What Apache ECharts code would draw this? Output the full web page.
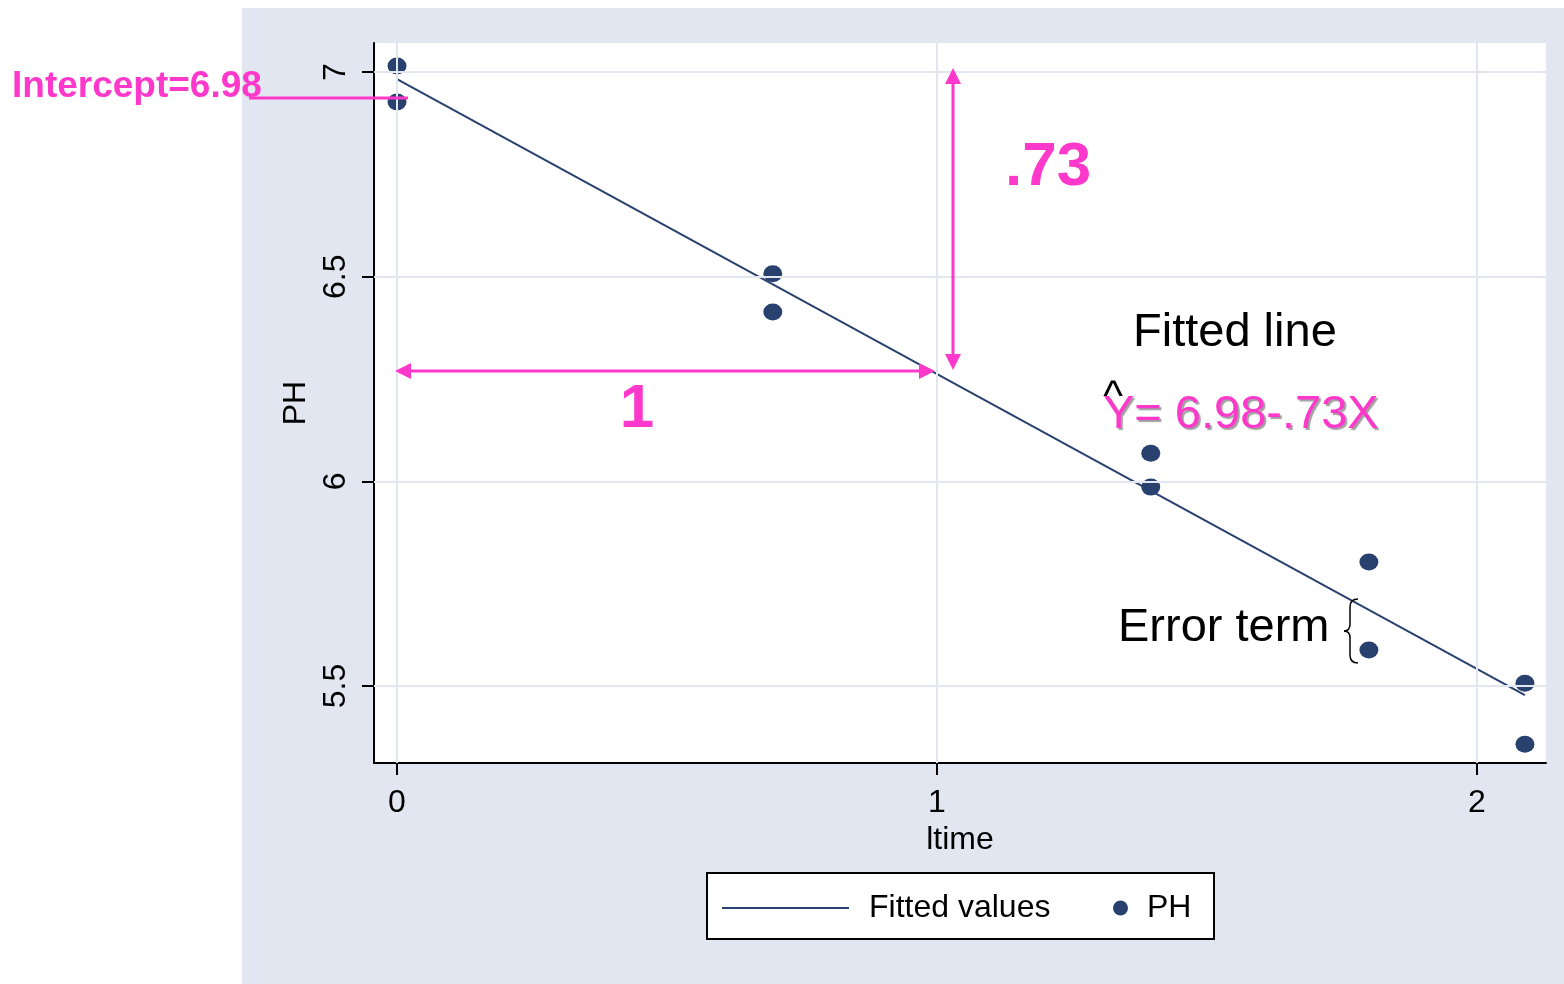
<!DOCTYPE html>
<html>
<head>
<meta charset="utf-8">
<script src="https://cdn.jsdelivr.net/npm/echarts@6/dist/echarts.min.js"></script>
<style>
  html, body { margin: 0; padding: 0; background: #fff; }
  #chart {
    width: 1564px; height: 984px;
    background: linear-gradient(#e1e6f0, #e1e6f0) 242px 8px / 1322px 976px no-repeat, #ffffff;
  }
</style>
</head>
<body>
<div id="chart"></div>
<script>
// ---- data ----
var ltime = [0, 0, 0.696, 0.696, 1.396, 1.396, 1.800, 1.800, 2.089, 2.089];
var ph    = [7.015, 6.927, 6.507, 6.414, 6.069, 5.986, 5.803, 5.588, 5.507, 5.358];
var fitX  = [0, 2.089];
var fitY  = [6.983, 5.478];
var xTicks = [0, 1, 2];
var yTicks = [5.5, 6, 6.5, 7];
var xRange = [-0.0426, 2.128];
var yRange = [5.312, 7.071];

var FONT = "'Liberation Sans', Arial, sans-serif";
var PINK = '#ff38cc';
var NAVY = '#29416f';
var GRIDC = '#e1e6f0';

var scatterData = ltime.map(function (x, i) { return [x, ph[i]]; });
var fitData = fitX.map(function (x, i) { return [x, fitY[i]]; });
var gridLines = xTicks.map(function (v) { return { xAxis: v }; })
  .concat(yTicks.map(function (v) { return { yAxis: v }; }));

var chart = echarts.init(document.getElementById('chart'), null, { renderer: 'canvas' });

function arrowHead(tip, dir) {
  var x = tip[0], y = tip[1], L = 16, W = 8;
  var pts;
  if (dir === 'up') pts = [[x, y], [x - W, y + L], [x + W, y + L]];
  if (dir === 'down') pts = [[x, y], [x - W, y - L], [x + W, y - L]];
  if (dir === 'left') pts = [[x, y], [x + L, y - W], [x + L, y + W]];
  if (dir === 'right') pts = [[x, y], [x - L, y - W], [x - L, y + W]];
  return { type: 'polygon', shape: { points: pts }, style: { fill: PINK }, z: 50 };
}
function seg(x1, y1, x2, y2, color, w) {
  return { type: 'line', shape: { x1: x1, y1: y1, x2: x2, y2: y2 }, style: { stroke: color, lineWidth: w }, z: 50 };
}
function bez(x1, y1, c1x, c1y, c2x, c2y, x2, y2) {
  return { type: 'bezierCurve', z: 50,
    shape: { x1: x1, y1: y1, cpx1: c1x, cpy1: c1y, cpx2: c2x, cpy2: c2y, x2: x2, y2: y2 },
    style: { stroke: '#000', lineWidth: 1.5, fill: null } };
}

var option = {
  animation: false,
  textStyle: { fontFamily: FONT },
  grid: {
    left: 374, top: 43, width: 1172, height: 720,
    show: true, backgroundColor: '#ffffff', borderWidth: 0,
    containLabel: false
  },
  xAxis: {
    type: 'value', min: xRange[0], max: xRange[1],
    name: 'ltime', nameLocation: 'middle', nameGap: 61,
    nameTextStyle: { fontSize: 32, color: '#000', fontFamily: FONT },
    axisLine: { show: true, onZero: false, lineStyle: { color: '#000', width: 2 } },
    axisTick: { show: true, length: 12, customValues: xTicks, lineStyle: { color: '#000', width: 2 } },
    axisLabel: { customValues: xTicks, fontSize: 32, color: '#000', margin: 24, fontFamily: FONT },
    splitLine: { show: false }
  },
  yAxis: {
    type: 'value', min: yRange[0], max: yRange[1],
    name: 'PH', nameLocation: 'middle', nameGap: 56, nameRotate: 90,
    nameTextStyle: { fontSize: 32, color: '#000', fontFamily: FONT },
    axisLine: { show: true, onZero: false, lineStyle: { color: '#000', width: 2 } },
    axisTick: { show: true, length: 12, customValues: yTicks, lineStyle: { color: '#000', width: 2 } },
    axisLabel: { customValues: yTicks, fontSize: 32, color: '#000', margin: 22, rotate: 90, fontFamily: FONT },
    splitLine: { show: false }
  },
  legend: [
    {
      data: [{ name: 'Fitted values', icon: 'rect', itemStyle: { color: NAVY } }],
      left: 722, top: 892, padding: 0,
      itemWidth: 127, itemHeight: 2,
      textStyle: { fontSize: 32, color: '#000', fontFamily: FONT, padding: [0, 0, 0, 15] },
      selectedMode: false
    },
    {
      data: [{ name: 'PH', icon: 'circle' }], left: 1113, top: 892, padding: 0,
      itemWidth: 17, itemHeight: 15,
      textStyle: { fontSize: 32, color: '#000', fontFamily: FONT, padding: [0, 0, 0, 13] },
      selectedMode: false
    }
  ],
  series: [
    {
      name: 'gridlines', type: 'scatter', data: [], z: 1, silent: true,
      markLine: {
        silent: true, symbol: ['none', 'none'], label: { show: false },
        lineStyle: { color: GRIDC, width: 2, type: 'solid' },
        emphasis: { disabled: true },
        data: gridLines
      }
    },
    {
      name: 'Fitted values', type: 'line', data: fitData, z: 3,
      showSymbol: false, symbol: 'none',
      lineStyle: { color: NAVY, width: 2 }, itemStyle: { color: NAVY }
    },
    {
      name: 'PH', type: 'scatter', data: scatterData, z: 4,
      symbol: 'circle', symbolSize: [19, 17],
      itemStyle: { color: NAVY, opacity: 1 }
    }
  ],
  graphic: [
    { type: 'rect', shape: { x: 707, y: 873, width: 507, height: 66 },
      style: { fill: '#fff', stroke: '#000', lineWidth: 2 }, z: 0 },
    { type: 'text', x: 12, y: 87, z: 50,
      style: { text: 'Intercept=6.98', fill: PINK, font: 'bold 37px ' + FONT, textVerticalAlign: 'middle' } },
    seg(249, 98, 408, 98, PINK, 3),
    seg(953, 80, 953, 358, PINK, 3),
    arrowHead([953, 68], 'up'),
    arrowHead([953, 370], 'down'),
    { type: 'text', x: 1005, y: 168, z: 50,
      style: { text: '.73', fill: PINK, font: 'bold 62px ' + FONT, textVerticalAlign: 'middle' } },
    seg(407, 371, 923, 371, PINK, 3),
    arrowHead([395, 371], 'left'),
    arrowHead([935, 371], 'right'),
    { type: 'text', x: 637, y: 410, z: 50,
      style: { text: '1', fill: PINK, font: 'bold 62px ' + FONT, textAlign: 'center', textVerticalAlign: 'middle' } },
    { type: 'text', x: 1133, y: 333, z: 50,
      style: { text: 'Fitted line', fill: '#000', font: '47px ' + FONT, textVerticalAlign: 'middle' } },
    { type: 'text', x: 1103, y: 415, z: 50,
      style: { text: 'Y= 6.98-.73X', fill: PINK, font: '47px ' + FONT, textVerticalAlign: 'middle',
               textShadowColor: 'rgba(120,120,120,0.7)', textShadowOffsetX: 2, textShadowOffsetY: 2, textShadowBlur: 1 } },
    { type: 'text', x: 1113, y: 398, z: 51,
      style: { text: '^', fill: '#000', font: '42px ' + FONT, textAlign: 'center', textVerticalAlign: 'middle' } },
    { type: 'text', x: 1118, y: 628, z: 50,
      style: { text: 'Error term', fill: '#000', font: '47px ' + FONT, textVerticalAlign: 'middle' } },
    // curly brace
    bez(1358, 599, 1352, 599, 1350, 602, 1350, 607),
    { type: 'line', shape: { x1: 1350, y1: 607, x2: 1350, y2: 624 }, style: { stroke: '#000', lineWidth: 1.5 }, z: 50 },
    bez(1350, 624, 1350, 629, 1348, 631, 1344, 631),
    bez(1344, 631, 1348, 631, 1350, 633, 1350, 638),
    { type: 'line', shape: { x1: 1350, y1: 638, x2: 1350, y2: 655 }, style: { stroke: '#000', lineWidth: 1.5 }, z: 50 },
    bez(1350, 655, 1350, 660, 1352, 663, 1358, 663)
  ]
};

chart.setOption(option);
</script>
</body>
</html>
